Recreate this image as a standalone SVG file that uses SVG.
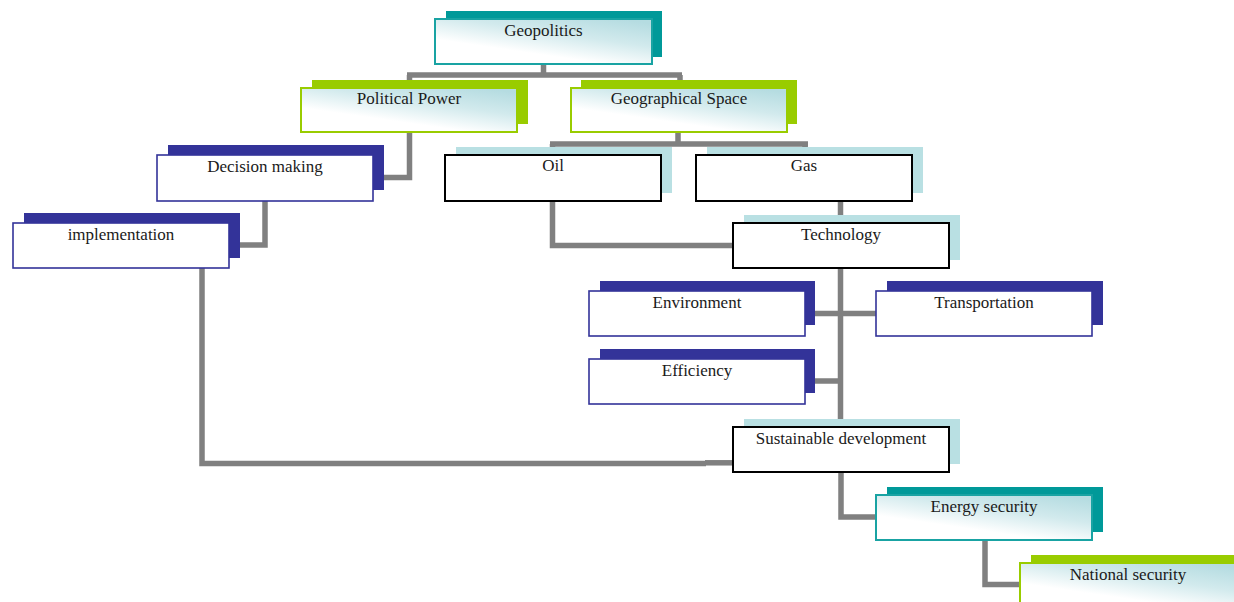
<svg xmlns="http://www.w3.org/2000/svg" width="1234" height="602" viewBox="0 0 1234 602">
<style>
.bg{fill:#ffffff}
.conn{fill:none;stroke:#808080;stroke-width:5.5;stroke-linejoin:miter;stroke-linecap:butt}
.sh-teal{fill:#009999}
.sh-green{fill:#99cc00}
.sh-navy{fill:#333399}
.sh-light{fill:#b9e0e3}
.fr-teal{fill:url(#grad);stroke:#19a3a3;stroke-width:2}
.fr-green{fill:url(#grad);stroke:#99cc00;stroke-width:2}
.fr-navy{fill:#ffffff;stroke:#333399;stroke-width:1.6}
.fr-black{fill:#ffffff;stroke:#000000;stroke-width:2}
.lbl{font-family:"Liberation Serif","Times New Roman",serif;font-size:17px;fill:#1a1a1a;text-anchor:middle}
</style>
<defs>
<linearGradient id="grad" x1="0.15" y1="1" x2="0.85" y2="0">
<stop offset="0" stop-color="#ffffff"/>
<stop offset="0.3" stop-color="#ffffff"/>
<stop offset="0.65" stop-color="#d2eaed"/>
<stop offset="1" stop-color="#b5dce1"/>
</linearGradient>
</defs>
<rect class="bg" x="0" y="0" width="1234" height="602"/>
<g id="connectors">
<path class="conn" d="M543.5,64 V75 M407,75 H682 M409.5,75 V88 M680,75 V88"/>
<path class="conn" d="M678,133 V144 M550,144 H808 M552.5,144 V155 M805,144 V155"/>
<path class="conn" d="M409.5,132 V177.5 H384"/>
<path class="conn" d="M265,201 V245 H240"/>
<path class="conn" d="M552.5,201 V245.5 H733"/>
<path class="conn" d="M840.5,201 V223"/>
<path class="conn" d="M840.5,268 V427 M815,313.5 H876 M815,381 H840.5"/>
<path class="conn" d="M202,268 V463.5 H706"/>
<path class="conn" d="M705,462.8 H733"/>
<path class="conn" d="M841,472 V517 H876"/>
<path class="conn" d="M985,540 V584.5 H1020"/>
</g>
<g id="node-geopolitics">
<rect class="sh-teal" x="446" y="11" width="216" height="46"/>
<rect class="fr-teal" x="435" y="19" width="217" height="45"/>
<text class="lbl" x="543.5" y="36">Geopolitics</text>
</g>
<g id="node-political-power">
<rect class="sh-green" x="312" y="80" width="216" height="44"/>
<rect class="fr-green" x="301" y="88" width="216" height="44"/>
<text class="lbl" x="409" y="104">Political Power</text>
</g>
<g id="node-geographical-space">
<rect class="sh-green" x="581" y="80" width="216" height="44"/>
<rect class="fr-green" x="571" y="88" width="216" height="44"/>
<text class="lbl" x="679" y="104">Geographical Space</text>
</g>
<g id="node-decision-making">
<rect class="sh-navy" x="168" y="145" width="216" height="45"/>
<rect class="fr-navy" x="157" y="155" width="216" height="46"/>
<text class="lbl" x="265" y="172">Decision making</text>
</g>
<g id="node-implementation">
<rect class="sh-navy" x="24" y="213" width="216" height="45"/>
<rect class="fr-navy" x="13" y="223" width="216" height="45"/>
<text class="lbl" x="121" y="240">implementation</text>
</g>
<g id="node-oil">
<rect class="sh-light" x="456" y="147" width="216" height="46"/>
<rect class="fr-black" x="445" y="155" width="216" height="46"/>
<text class="lbl" x="553" y="171">Oil</text>
</g>
<g id="node-gas">
<rect class="sh-light" x="707" y="147" width="216" height="46"/>
<rect class="fr-black" x="696" y="155" width="216" height="46"/>
<text class="lbl" x="804" y="171">Gas</text>
</g>
<g id="node-technology">
<rect class="sh-light" x="744" y="215" width="216" height="45"/>
<rect class="fr-black" x="733" y="223" width="216" height="45"/>
<text class="lbl" x="841" y="240">Technology</text>
</g>
<g id="node-environment">
<rect class="sh-navy" x="600" y="281" width="215" height="44"/>
<rect class="fr-navy" x="589" y="291" width="216" height="45"/>
<text class="lbl" x="697" y="308">Environment</text>
</g>
<g id="node-transportation">
<rect class="sh-navy" x="887" y="281" width="216" height="44"/>
<rect class="fr-navy" x="876" y="291" width="216" height="45"/>
<text class="lbl" x="984" y="308">Transportation</text>
</g>
<g id="node-efficiency">
<rect class="sh-navy" x="600" y="349" width="215" height="44"/>
<rect class="fr-navy" x="589" y="359" width="216" height="45"/>
<text class="lbl" x="697" y="376">Efficiency</text>
</g>
<g id="node-sustainable-development">
<rect class="sh-light" x="744" y="419" width="216" height="45"/>
<rect class="fr-black" x="733" y="427" width="216" height="45"/>
<text class="lbl" x="841" y="444">Sustainable development</text>
</g>
<g id="node-energy-security">
<rect class="sh-teal" x="887" y="487" width="216" height="45"/>
<rect class="fr-teal" x="876" y="495" width="216" height="45"/>
<text class="lbl" x="984" y="512">Energy security</text>
</g>
<g id="node-national-security">
<rect class="sh-green" x="1031" y="555" width="216" height="45"/>
<rect class="fr-green" x="1020" y="563" width="216" height="45"/>
<text class="lbl" x="1128" y="580">National security</text>
</g>
</svg>
